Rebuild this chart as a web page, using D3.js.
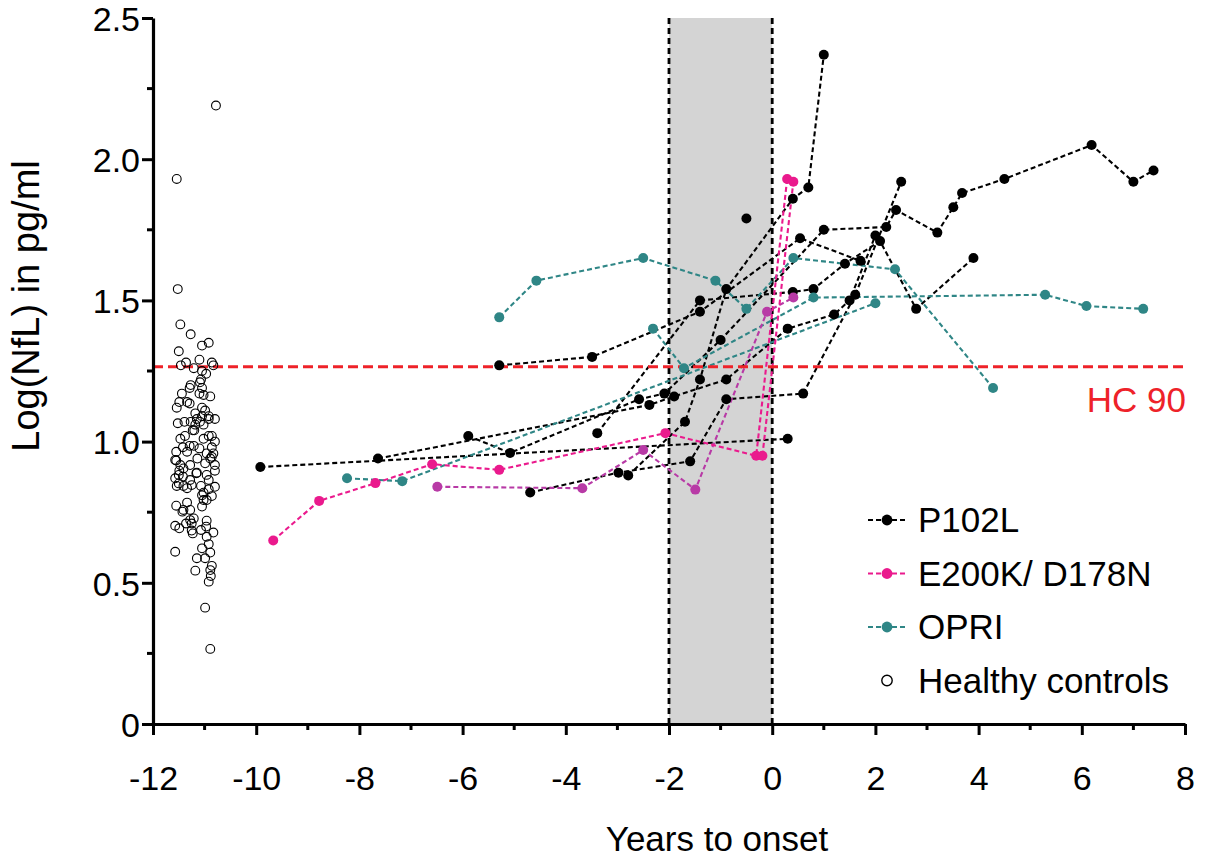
<!DOCTYPE html>
<html><head><meta charset="utf-8">
<script src="https://cdn.jsdelivr.net/npm/d3@7"></script>
<style>body{margin:0;background:#fff}svg{display:block}text{font-family:"Liberation Sans",Arial,sans-serif}</style>
</head><body>
<svg id="c" width="1210" height="859"></svg>
<script>
// ---- data ----
const xTicks = [-12,-10,-8,-6,-4,-2,0,2,4,6,8];
const yTicks = [0,0.5,1.0,1.5,2.0,2.5];
const hc90 = 1.265;
const legendLabels = ["P102L","E200K/ D178N","OPRI","Healthy controls"];

const p102l = [
  [[-9.92,0.91],[0.3,1.01]],
  [[-7.64,0.94],[-2.38,1.13],[-1.90,1.16],[-0.89,1.22],[0.3,1.40],[1.2,1.45],[1.5,1.50],[2.0,1.73]],
  [[-5.89,1.02],[-5.08,0.96],[-2.58,1.15],[-2.09,1.17],[-1.0,1.36],[1.0,1.75],[2.21,1.76],[2.4,1.82],[3.2,1.74],[3.51,1.83],[3.68,1.88],[4.5,1.93],[6.19,2.05],[7.0,1.92],[7.39,1.96]],
  [[-4.69,0.82],[-2.98,0.89],[-1.59,0.93],[-0.89,1.15],[0.6,1.17],[1.61,1.52],[2.5,1.92]],
  [[-2.79,0.88],[-1.69,1.07],[-1.40,1.22],[-0.89,1.54],[0.4,1.86],[0.7,1.90],[1.0,2.37]],
  [[-5.29,1.27],[-3.49,1.30],[-1.40,1.46],[0.54,1.72],[1.71,1.64]],
  [[-3.39,1.03],[-1.40,1.50],[0.4,1.53],[0.8,1.54],[1.41,1.63],[2.09,1.71],[2.79,1.47],[3.9,1.65]],
  [[-0.5,1.79]]
];
const e200k = [
  [[-9.67,0.65],[-8.78,0.79],[-7.69,0.853],[-6.59,0.92],[-5.29,0.90],[-2.07,1.03],[-0.31,0.95],[0.29,1.93]],
  [[-0.19,0.95],[0.41,1.92]]
];
const d178n = [
  [[-6.49,0.84],[-3.68,0.835],[-2.5,0.97],[-1.49,0.83],[-0.1,1.46],[0.41,1.51]]
];
const opri = [
  [[-5.29,1.44],[-4.57,1.57],[-2.5,1.65],[-1.1,1.57],[-0.5,1.47],[0.41,1.65],[2.38,1.61],[4.28,1.19]],
  [[-2.31,1.40],[-1.71,1.26],[0.8,1.51],[5.29,1.52],[6.09,1.48],[7.19,1.47]],
  [[-8.24,0.87],[-7.17,0.86],[2.0,1.49]]
];
const healthyControls = [
  [-10.78,2.19],[-11.54,1.93],[-11.52,1.54],[-11.47,1.415],[-11.27,1.38],[-11.50,1.32],[-11.05,1.34],[-10.92,1.35],
  [-11.36,1.28],[-11.10,1.29],[-10.86,1.28],[-11.46,1.27],[-10.83,1.27],[-11.21,1.26],[-11.05,1.25],[-10.97,1.24],
  [-11.07,1.22],[-11.09,1.21],[-11.27,1.20],[-11.29,1.19],[-11.44,1.17],[-11.05,1.19],[-11.10,1.17],[-11.02,1.165],
  [-10.89,1.16],[-11.49,1.14],[-11.29,1.135],[-11.54,1.12],[-11.34,1.14],[-11.05,1.12],[-11.18,1.10],[-10.99,1.11],
  [-10.92,1.09],[-11.05,1.09],[-11.15,1.08],[-10.80,1.08],[-10.92,1.08],[-11.09,1.07],[-11.52,1.065],[-11.39,1.07],
  [-11.27,1.07],[-11.18,1.06],[-11.02,1.06],[-11.23,1.04],[-11.20,1.04],[-10.92,1.02],[-10.86,1.02],[-11.02,1.01],
  [-11.38,1.02],[-11.47,1.01],[-10.80,1.00],[-11.29,0.985],[-11.21,0.985],[-11.42,0.98],[-11.10,0.976],[-10.86,0.98],
  [-11.55,0.964],[-11.34,0.964],[-10.96,0.958],[-10.83,0.958],[-11.57,0.935],[-11.55,0.933],[-11.14,0.94],[-10.86,0.946],
  [-10.89,0.94],[-11.47,0.917],[-11.28,0.917],[-10.99,0.923],[-10.80,0.917],[-11.41,0.905],[-11.49,0.897],[-11.15,0.89],
  [-11.16,0.888],[-10.80,0.897],[-11.50,0.882],[-10.96,0.882],[-11.57,0.87],[-11.42,0.876],[-11.28,0.864],[-10.92,0.864],
  [-11.50,0.852],[-11.41,0.843],[-11.54,0.843],[-11.25,0.846],[-11.34,0.835],[-11.07,0.843],[-10.80,0.84],[-10.92,0.831],
  [-11.02,0.819],[-11.05,0.81],[-10.86,0.807],[-11.02,0.793],[-10.96,0.793],[-11.05,0.77],[-11.55,0.773],[-11.34,0.784],
  [-11.41,0.758],[-11.28,0.758],[-11.43,0.752],[-11.21,0.728],[-11.28,0.722],[-10.96,0.72],[-10.97,0.699],[-11.25,0.71],
  [-11.57,0.702],[-11.49,0.693],[-11.36,0.71],[-11.25,0.685],[-11.23,0.675],[-11.07,0.687],[-10.83,0.678],[-10.96,0.663],
  [-10.92,0.637],[-11.05,0.622],[-10.89,0.607],[-11.57,0.61],[-11.15,0.587],[-10.99,0.587],[-10.86,0.56],[-10.89,0.545],
  [-11.18,0.543],[-10.88,0.524],[-10.92,0.504],[-10.99,0.412],[-10.89,0.266]
];

// ---- chart ----
const svg = d3.select("#c");
const x = d3.scaleLinear().domain([-12,8]).range([153,1185]);
const y = d3.scaleLinear().domain([0,2.5]).range([724,18]);
const C = {black:"#000000", pink:"#ea1a8d", mag:"#b83aa6", teal:"#2f8686", red:"#ee2229"};
const FONT = "Liberation Sans, Arial, sans-serif";

// grey onset band
svg.append("rect").attr("x",x(-2)).attr("y",y(2.5)).attr("width",x(0)-x(-2)).attr("height",y(0)-y(2.5)).attr("fill","#d4d4d4");
[-2,0].forEach(v=>svg.append("line").attr("x1",x(v)).attr("x2",x(v)).attr("y1",y(0)).attr("y2",y(2.5))
  .attr("stroke","#000").attr("stroke-width",2.8).attr("stroke-dasharray","6,4"));

const line = d3.line().x(d=>x(d[0])).y(d=>y(d[1]));
function drawLines(groups,color){
  svg.append("g").selectAll("path").data(groups.filter(g=>g.length>1)).join("path")
    .attr("d",line).attr("fill","none").attr("stroke",color).attr("stroke-width",2.1).attr("stroke-dasharray","5,3");
}
function drawDots(groups,color){
  svg.append("g").selectAll("circle").data(groups.flat()).join("circle")
    .attr("cx",d=>x(d[0])).attr("cy",d=>y(d[1])).attr("r",5).attr("fill",color);
}
drawLines(p102l,C.black);
drawLines(opri,C.teal);
drawLines(d178n,C.mag);
drawLines(e200k,C.pink);

// HC 90 line
svg.append("line").attr("x1",x(-12)).attr("x2",x(8)).attr("y1",y(hc90)).attr("y2",y(hc90))
  .attr("stroke",C.red).attr("stroke-width",3.2).attr("stroke-dasharray","10,5");
svg.append("text").attr("x",1186).attr("y",412).attr("text-anchor","end").attr("fill",C.red)
  .attr("font-size",35).text("HC 90");

drawDots(p102l,C.black);
drawDots(opri,C.teal);
drawDots(d178n,C.mag);
drawDots(e200k,C.pink);

// healthy controls
svg.append("g").selectAll("circle").data(healthyControls).join("circle")
  .attr("cx",d=>x(d[0])).attr("cy",d=>y(d[1])).attr("r",4.4)
  .attr("fill","none").attr("stroke","#000").attr("stroke-width",1.1);

// axes
const xAxis = svg.append("g").attr("transform",`translate(0,${y(0)})`)
  .call(d3.axisBottom(x).tickValues(xTicks).tickFormat(d=>String(d)).tickSize(11).tickSizeOuter(0));
const yAxis = svg.append("g").attr("transform",`translate(${x(-12)},0)`)
  .call(d3.axisLeft(y).tickValues(yTicks).tickFormat(d=>d===0?"0":d3.format(".1f")(d)).tickSize(11).tickSizeOuter(0));
[xAxis,yAxis].forEach(a=>{
  a.select(".domain").attr("stroke-width",3.2);
  a.selectAll(".tick line").attr("stroke-width",3);
  a.selectAll(".tick text").attr("font-size",34).attr("fill","#000").attr("font-family",FONT);
});
xAxis.selectAll(".tick text").attr("y",0).attr("dy",0).attr("transform","translate(0,66)");
yAxis.selectAll(".tick text").attr("x",-13).attr("dy","0.36em");
// minor ticks
const minorY = d3.range(0.25,2.5,0.5);
svg.append("g").selectAll("line").data(minorY).join("line")
  .attr("x1",x(-12)-6).attr("x2",x(-12)).attr("y1",d=>y(d)).attr("y2",d=>y(d)).attr("stroke","#000").attr("stroke-width",3);
const minorX = d3.range(-11,8,2);
svg.append("g").selectAll("line").data(minorX).join("line")
  .attr("x1",d=>x(d)).attr("x2",d=>x(d)).attr("y1",y(0)).attr("y2",y(0)+6).attr("stroke","#000").attr("stroke-width",3);

// axis titles
svg.append("text").attr("x",717).attr("y",851).attr("text-anchor","middle").attr("font-size",35).text("Years to onset");
svg.append("text").attr("transform",`translate(39,306) rotate(-90)`).attr("text-anchor","middle").attr("font-size",38).text("Log(NfL) in pg/ml");

// legend
const legColors = [C.black,C.pink,C.teal,null];
const lg = svg.append("g");
legendLabels.forEach((lab,i)=>{
  const ly = 520 + i*53.5;
  if(legColors[i]){
    lg.append("line").attr("x1",868).attr("x2",906).attr("y1",ly).attr("y2",ly).attr("stroke",legColors[i])
      .attr("stroke-width",2.1).attr("stroke-dasharray","5,3");
    lg.append("circle").attr("cx",887).attr("cy",ly).attr("r",5.4).attr("fill",legColors[i]);
  } else {
    lg.append("circle").attr("cx",887).attr("cy",ly).attr("r",5.2).attr("fill","none").attr("stroke","#000").attr("stroke-width",1.4);
  }
  lg.append("text").attr("x",918).attr("y",ly+12).attr("font-size",35).text(lab);
});
</script>
</body></html>
